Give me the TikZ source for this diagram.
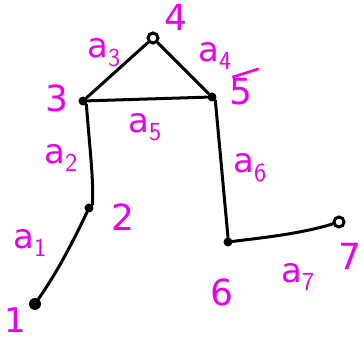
\documentclass[tikz,border=0pt]{standalone}
\usepackage{fontspec}
\setmainfont{DejaVu Sans}
\definecolor{pen}{RGB}{235,0,235}
\begin{document}
\begin{tikzpicture}[x=1pt,y=-1pt,
  edge/.style={line width=3pt,line cap=round,black},
  dotnode/.style={circle,fill=black,inner sep=0pt,minimum size=9pt},
  ringnode/.style={circle,draw=black,line width=3pt,fill=white,inner sep=0pt,minimum size=10pt},
  lbl/.style={text=pen,font=\fontsize{36}{36}\selectfont,inner sep=0pt},
  elbl/.style={text=pen,font=\fontsize{34}{34}\selectfont,inner sep=0pt}]
\useasboundingbox (0,0) rectangle (360,342);
\node[dotnode,minimum size=12pt] (n1) at (35,304) {};
\node[dotnode] (n2) at (89,208) {};
\node[dotnode] (n3) at (83,101) {};
\node[ringnode] (n4) at (153,38) {};
\node[dotnode] (n5) at (212,97) {};
\node[dotnode] (n6) at (228,242) {};
\node[ringnode] (n7) at (339,222) {};
\draw[edge] (n1) .. controls (55,275) and (68,252) .. (n2);
\draw[edge] (n2.north east) .. controls (94,185) and (90,150) .. (n3.south east);
\draw[edge] (n3) -- (n4);
\draw[edge] (n4) -- (n5);
\draw[edge] (n3) -- (n5);
\draw[edge] (n5.south east) -- (n6.north);
\draw[edge] (n6) .. controls (260,238) and (300,234) .. (n7);
\node[lbl,font=\fontsize{34}{34}\selectfont] (l1) at (15,320) {1};
\node[lbl] (l2) at (123,217) {2};
\node[lbl] (l3) at (57,98) {3};
\node[lbl] (l4) at (176,17) {4};
\node[lbl] (l5) at (241,92) {5};
\node[lbl] (l6) at (222,292) {6};
\node[lbl] (l7) at (350,256) {7};
\coordinate (s1) at (233,77);
\coordinate (s2) at (258,69);
\draw[pen,line width=2.6pt,line cap=round] (s1) -- (s2);
\node[elbl] (a1) at (30,243) {a$_{\textsf{\fontsize{26}{26}\selectfont 1}}$};
\node[elbl] (a2) at (61,158) {a$_{\textsf{\fontsize{26}{26}\selectfont 2}}$};
\node[elbl] (a3) at (104,53) {a$_{\textsf{\fontsize{26}{26}\selectfont 3}}$};
\node[elbl] (a4) at (215,56) {a$_{\textsf{\fontsize{26}{26}\selectfont 4}}$};
\node[elbl] (a5) at (145,127) {a$_{\textsf{\fontsize{26}{26}\selectfont 5}}$};
\node[elbl] (a6) at (250,168) {a$_{\textsf{\fontsize{26}{26}\selectfont 6}}$};
\node[elbl] (a7) at (298,277) {a$_{\textsf{\fontsize{26}{26}\selectfont 7}}$};
\end{tikzpicture}
\end{document}
